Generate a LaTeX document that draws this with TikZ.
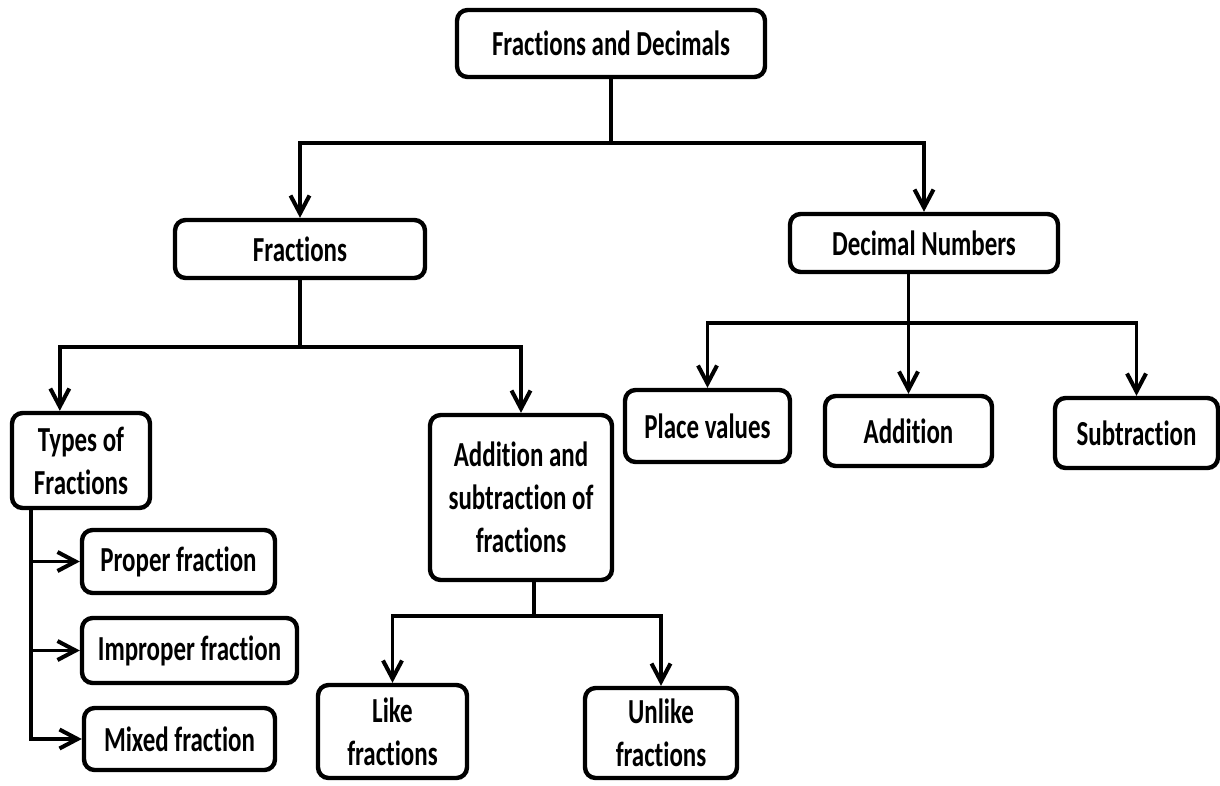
\documentclass[tikz,border=0pt]{standalone}
\usepackage{fontspec}
\setmainfont{Carlito}[FakeStretch=0.71, RawFeature={-liga;-clig;-calt;-dlig}]
\usetikzlibrary{arrows.meta}
\tikzset{
        box/.style={draw, line width=2.5pt, rounded corners=6pt, align=center, inner sep=0pt,
                    font=\fontsize{20}{24.4}\selectfont\bfseries}, % every box of the chart
        link/.style={line width=2pt}, % lines between the boxes
        >={Straight Barb[length=0.36cm, width=0.38cm, line width=2.3pt]}, % open arrow heads
    }
\begin{document}
\begin{tikzpicture}[x=0.02cm, y=-0.02cm]
    \useasboundingbox (0,0) rectangle (1220,785);
    \node[box, minimum width=6.16cm, minimum height=1.34cm] (root) at (611,43.5) {Fractions and Decimals};
    \node[box, minimum width=5cm, minimum height=1.16cm] (frac) at (300,249) {Fractions};
    \node[box, minimum width=5.36cm, minimum height=1.16cm] (dec) at (924,243) {Decimal Numbers};
    \node[box, minimum width=2.76cm, minimum height=1.9cm] (types) at (81,460.5) {Types of\\Fractions};
    \node[box, minimum width=3.64cm, minimum height=3.3cm] (addsub) at (521,497.5) {Addition and\\subtraction of\\fractions};
    \node[box, minimum width=3.86cm, minimum height=1.26cm] (proper) at (178.5,561.5) {Proper fraction};
    \node[box, minimum width=4.3cm, minimum height=1.3cm] (improper) at (189.5,650.5) {Improper fraction};
    \node[box, minimum width=3.82cm, minimum height=1.24cm] (mixed) at (179.5,739) {Mixed fraction};
    \node[box, minimum width=2.98cm, minimum height=1.86cm] (like) at (392.5,731.5) {Like\\fractions};
    \node[box, minimum width=3.04cm, minimum height=1.8cm] (unlike) at (661,733) {Unlike\\fractions};
    \node[box, minimum width=3.3cm, minimum height=1.44cm] (place) at (707.5,426) {Place values};
    \node[box, minimum width=3.34cm, minimum height=1.4cm] (addn) at (908.5,431) {Addition};
    \node[box, minimum width=3.26cm, minimum height=1.4cm] (subtr) at (1136.5,433) {Subtraction};

    % top level
    \draw[link, ->] (root.south) -- ++(0,64) -| (frac);
    \draw[link, ->] (root.south) -- ++(0,64) -| (dec);
    % fractions
    \draw[link, ->] (frac.south) -- ++(0,67) -| ([xshift=1cm]types.north west);
    \draw[link, ->] (frac.south) -- ++(0,67) -| (addsub);
    \draw[link, ->] ([xshift=0.42cm]types.south west) |- (proper);
    \draw[link, ->] ([xshift=0.42cm]types.south west) |- (improper);
    \draw[link, ->] ([xshift=0.42cm]types.south west) |- (mixed);
    \draw[link, ->] ([xshift=0.26cm]addsub.south) -- ++(0,34) -| (like);
    \draw[link, ->] ([xshift=0.26cm]addsub.south) -- ++(0,34) -| (unlike);
    % decimals
    \coordinate (djoin) at (addn.north |- 0,323);
    \draw[link, ->] (addn.north |- dec.south) -- (addn);
    \draw[link, ->] (djoin) -| (place);
    \draw[link, ->] (djoin) -| (subtr);
\end{tikzpicture}
\end{document}
